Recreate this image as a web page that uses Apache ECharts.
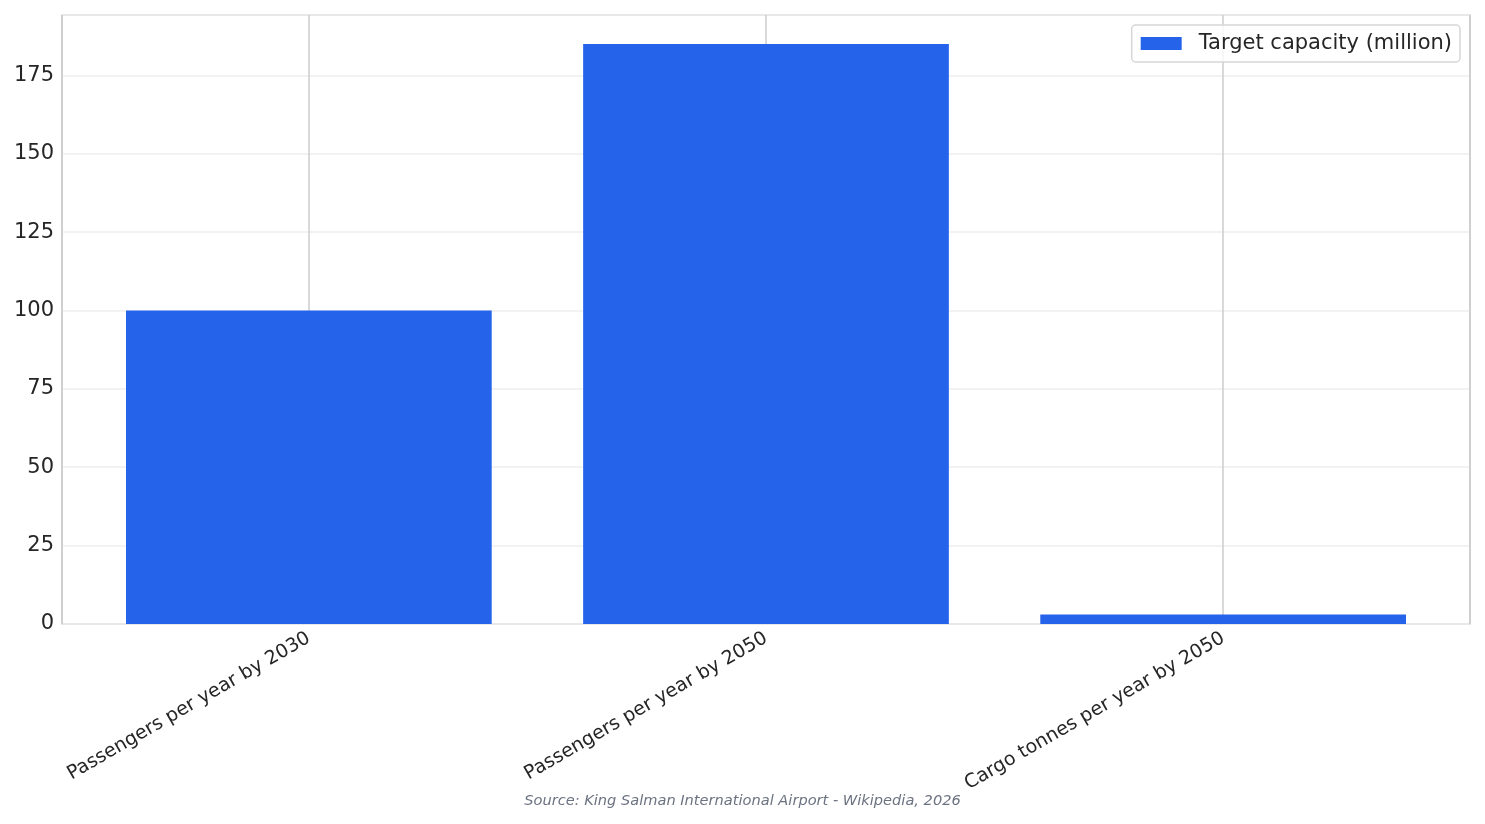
<!DOCTYPE html>
<html>
<head>
<meta charset="utf-8">
<script src="https://cdn.jsdelivr.net/npm/echarts@6/dist/echarts.min.js"></script>
<style>
html,body{margin:0;padding:0;background:#fff;}
#chart{width:1485px;height:824px;}
</style>
</head>
<body>
<div id="chart"></div>
<script>
const categories = ['Passengers per year by 2030', 'Passengers per year by 2050', 'Cargo tonnes per year by 2050'];
const values = [100, 185, 3];
const seriesName = 'Target capacity (million)';
const yTicks = [0, 25, 50, 75, 100, 125, 150, 175];
const sourceText = 'Source: King Salman International Airport - Wikipedia, 2026';

const chart = echarts.init(document.getElementById('chart'), null, {renderer: 'canvas'});
const font = 'DejaVu Sans';
chart.setOption({
  backgroundColor: '#ffffff',
  animation: false,
  textStyle: {fontFamily: font},
  grid: {left: 62, right: 15, top: 15, bottom: 200, show: true, borderColor: '#cccccc', borderWidth: 1.5, backgroundColor: 'transparent', containLabel: false},
  legend: {
    show: true,
    right: 25, top: 25,
    itemWidth: 41, itemHeight: 13,
    padding: [8, 8, 8, 9],
    borderColor: '#d6d6d6', borderWidth: 1.5, borderRadius: 4,
    backgroundColor: 'rgba(255,255,255,0.8)',
    textStyle: {fontSize: 21, color: '#262626', fontFamily: font, padding: [0, 0, 0, 12]},
    data: [{name: seriesName, icon: 'rect'}]
  },
  xAxis: {
    type: 'value',
    min: -0.54, max: 2.54,
    minInterval: 1, maxInterval: 1,
    axisLine: {show: false},
    axisTick: {show: false},
    splitLine: {show: true, lineStyle: {color: '#cccccc', width: 1.5}},
    axisLabel: {
      show: true,
      rotate: 30,
      fontSize: 19,
      color: '#262626',
      margin: 13,
      showMinLabel: false, showMaxLabel: false,
      formatter: function (v) {
        const i = Math.round(v);
        return (Math.abs(v - i) < 1e-6 && categories[i] !== undefined) ? categories[i] : '';
      }
    }
  },
  yAxis: {
    type: 'value',
    min: 0, max: 194.25, interval: 25,
    axisLine: {show: false},
    axisTick: {show: false},
    splitLine: {show: true, lineStyle: {color: '#eeeeee', width: 1.5}},
    axisLabel: {
      fontSize: 21, color: '#262626', margin: 8,
      showMaxLabel: false,
      formatter: function (v) { return yTicks.indexOf(v) >= 0 ? String(v) : ''; }
    }
  },
  graphic: [{
    type: 'text',
    left: 'center', top: 794,
    style: {text: sourceText, fontSize: 14.6, fontStyle: 'italic', fill: '#6b7280', fontFamily: font}
  }],
  series: [{
    name: seriesName,
    type: 'bar',
    barWidth: '80%',
    itemStyle: {color: '#2563eb'},
    data: values.map((v, i) => [i, v])
  }]
});
</script>
</body>
</html>
